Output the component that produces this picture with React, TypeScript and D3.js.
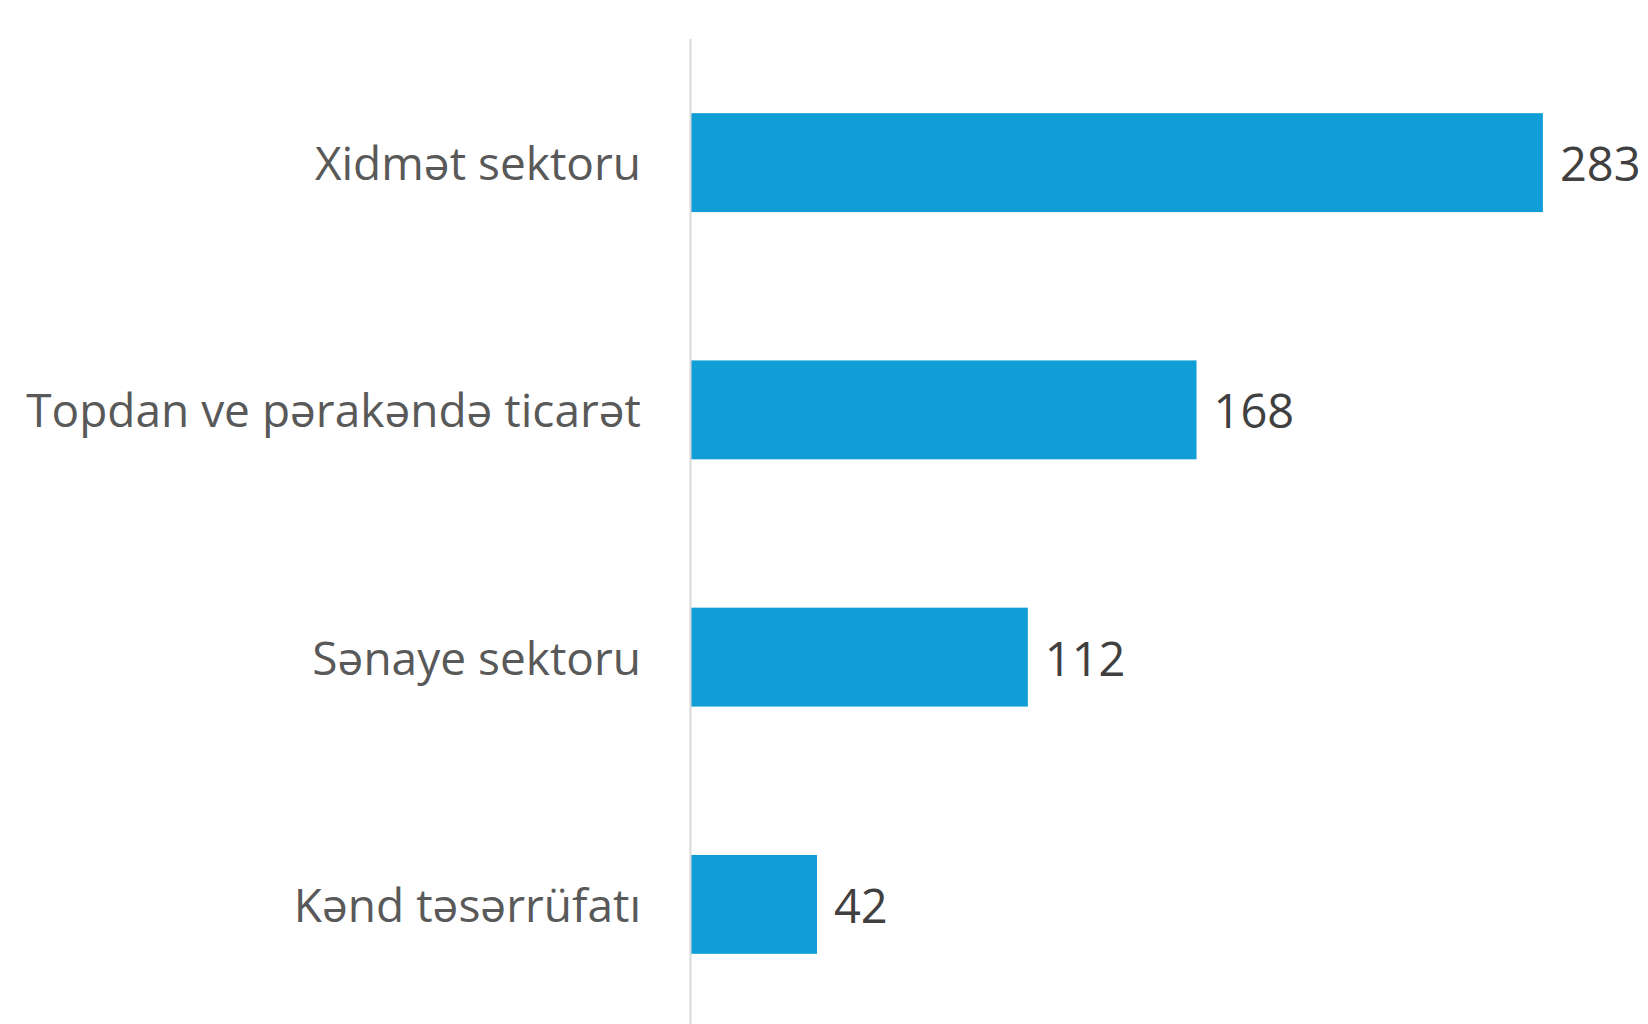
import { useEffect, useRef } from "react"
import * as d3 from "d3"

const categories = ["Xidmət sektoru", "Topdan ve pərakəndə ticarət", "Sənaye sektoru", "Kənd təsərrüfatı"]
const values = [283, 168, 112, 42]

const width = 1648
const height = 1024

export default function App() {
  const svgRef = useRef<SVGSVGElement>(null)

  useEffect(() => {
    if (!svgRef.current) return
    const svg = d3.select(svgRef.current)
    svg.selectAll("*").remove()

    const axisX = 690.5
    const fontSize = 46
    const capH = fontSize * 0.714

    const x = d3.scaleLinear().domain([0, 300]).range([axisX, axisX + 903.6])
    const y = d3.scaleBand().domain(categories).range([39, 1028]).paddingInner(0.6).paddingOuter(0.3)

    // bars
    svg
      .selectAll(".bar")
      .data(categories)
      .enter()
      .append("rect")
      .attr("class", "bar")
      .attr("x", x(0))
      .attr("y", (d) => y(d)!)
      .attr("width", (d, i) => x(values[i]) - x(0))
      .attr("height", y.bandwidth())
      .attr("fill", "#119ED6")

    // vertical axis line
    svg
      .append("line")
      .attr("x1", axisX)
      .attr("x2", axisX)
      .attr("y1", 39)
      .attr("y2", height)
      .attr("stroke", "#D9D9D9")
      .attr("stroke-width", 2)

    // category labels
    svg
      .selectAll(".cat")
      .data(categories)
      .enter()
      .append("text")
      .attr("class", "cat")
      .attr("x", 641)
      .attr("y", (d) => y(d)! + y.bandwidth() / 2 + capH / 2 + 1)
      .attr("text-anchor", "end")
      .attr("font-family", "Open Sans")
      .attr("font-size", fontSize)
      .attr("fill", "#595959")
      .text((d) => d)

    // value labels
    svg
      .selectAll(".val")
      .data(categories)
      .enter()
      .append("text")
      .attr("class", "val")
      .attr("x", (d, i) => x(values[i]) + 17)
      .attr("y", (d) => y(d)! + y.bandwidth() / 2 + capH / 2 + 2)
      .attr("font-family", "Open Sans")
      .attr("font-size", fontSize + 1)
      .attr("fill", "#404040")
      .text((d, i) => values[i])
  }, [])

  return (
    <svg
      ref={svgRef}
      width={width}
      height={height}
      style={{ position: "absolute", left: 0, top: 0, background: "#fff" }}
    />
  )
}
